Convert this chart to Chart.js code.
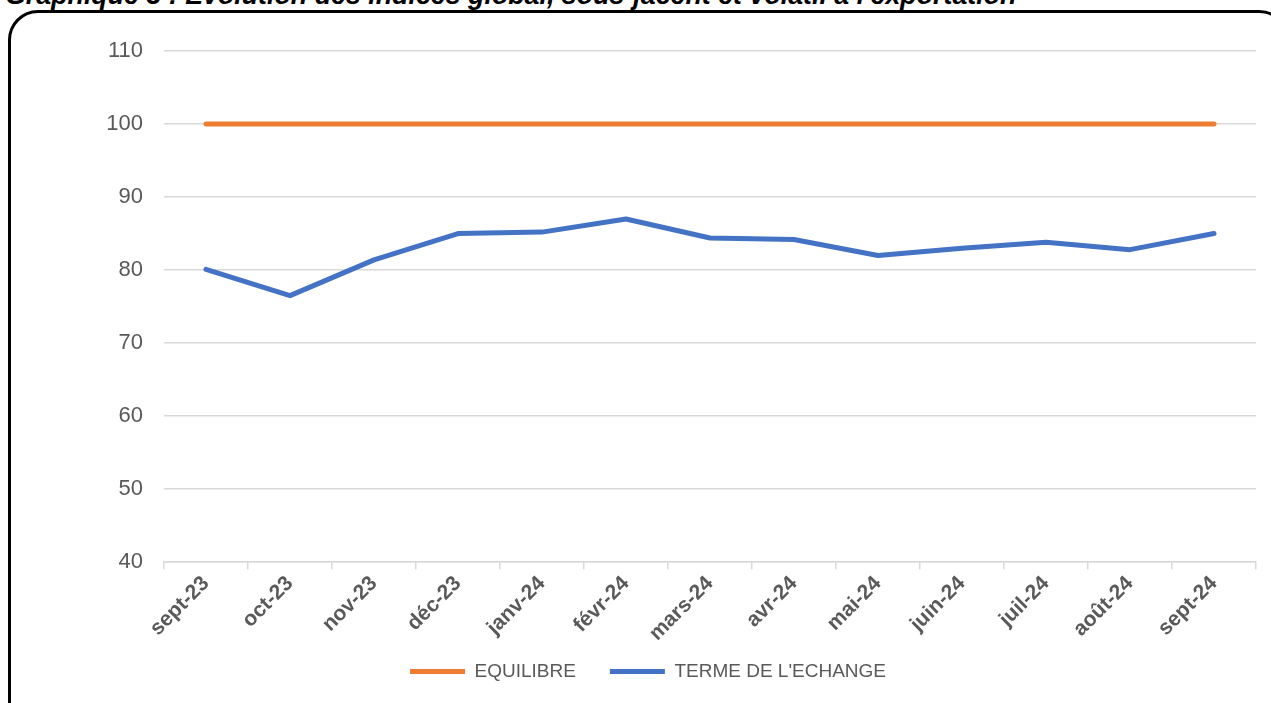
<!DOCTYPE html>
<html>
<head>
<meta charset="utf-8">
<script src="https://cdn.jsdelivr.net/npm/chart.js@4.4.1/dist/chart.umd.min.js"></script>
<style>
    body { margin: 0; background: #fff; overflow: hidden; }
    #title {
        position: absolute; left: 5px; top: -18px;
        font: italic bold 26.8px "Liberation Sans", Arial, sans-serif;
        line-height: 26.8px; white-space: nowrap; color: #000;
    }
    #frame {
        position: absolute; left: 8px; top: 10px;
        width: 1275px; height: 720px;
        border: 3px solid #000; border-radius: 30px;
    }
    #wrap { position: absolute; left: 0; top: 0; width: 1271px; height: 703px; }
</style>
</head>
<body>
<div id="title">Graphique 3 : Evolution des indices global, sous-jacent et volatil à l'exportation</div>
<div id="frame"></div>
<div id="wrap"><canvas id="chart"></canvas></div>
<script>
// Months
const months = ['sept-23', 'oct-23', 'nov-23', 'déc-23', 'janv-24', 'févr-24', 'mars-24',
    'avr-24', 'mai-24', 'juin-24', 'juil-24', 'août-24', 'sept-24'];

// Series
const equilibre = [100, 100, 100, 100, 100, 100, 100, 100, 100, 100, 100, 100, 100];
const termeEchange = [80.1, 76.5, 81.4, 85.0, 85.2, 87.0, 84.4, 84.2, 82.0, 83.0, 83.8, 82.8, 85.0];

// Y axis ticks
const yMin = 40;
const yMax = 110;
const yStep = 10;

const grey = '#595959';
const gridGrey = '#d9d9d9';

new Chart(document.getElementById('chart').getContext('2d'), {
    type: 'line',
    data: {
        labels: months,
        datasets: [{
            label: 'EQUILIBRE',
            data: equilibre,
            borderColor: '#ED7D31',
            backgroundColor: '#ED7D31',
            borderWidth: 5,
            borderCapStyle: 'round',
            borderJoinStyle: 'round',
            pointRadius: 0,
            tension: 0
        }, {
            label: "TERME DE L'ECHANGE",
            data: termeEchange,
            borderColor: '#4472C4',
            backgroundColor: '#4472C4',
            borderWidth: 5,
            borderCapStyle: 'round',
            borderJoinStyle: 'round',
            pointRadius: 0,
            tension: 0
        }]
    },
    options: {
        responsive: true,
        maintainAspectRatio: false,
        animation: false,
        layout: { padding: { left: 40, right: 15, top: 51, bottom: 12 } },
        scales: {
            x: {
                offset: true,
                // shorter axis box so the legend fits, labels may run below it
                afterFit: (scale) => {
                    scale.height -= 20;
                    scale._computeLabelArea = () => undefined;
                },
                grid: {
                    offset: true,
                    drawOnChartArea: false,
                    drawTicks: true,
                    tickLength: 7,
                    color: gridGrey,
                    lineWidth: 1.5
                },
                border: { display: true, color: gridGrey, width: 1.5 },
                ticks: {
                    color: grey,
                    minRotation: 45,
                    maxRotation: 45,
                    padding: 2,
                    font: { family: '"Liberation Sans", Arial, sans-serif', size: 21, weight: 'bold' }
                }
            },
            y: {
                min: yMin,
                max: yMax,
                afterFit: (scale) => { scale.width = 124; },
                grid: { color: gridGrey, lineWidth: 1.5, drawTicks: false },
                border: { display: false },
                ticks: {
                    stepSize: yStep,
                    color: grey,
                    padding: 21,
                    font: { family: '"Liberation Sans", Arial, sans-serif', size: 22 }
                }
            }
        },
        plugins: {
            legend: {
                position: 'bottom',
                labels: {
                    usePointStyle: true,
                    pointStyle: 'line',
                    pointStyleWidth: 55,
                    padding: 34,
                    color: grey,
                    font: { family: '"Liberation Sans", Arial, sans-serif', size: 19 }
                }
            },
            tooltip: { enabled: false }
        }
    }
});
</script>
</body>
</html>
